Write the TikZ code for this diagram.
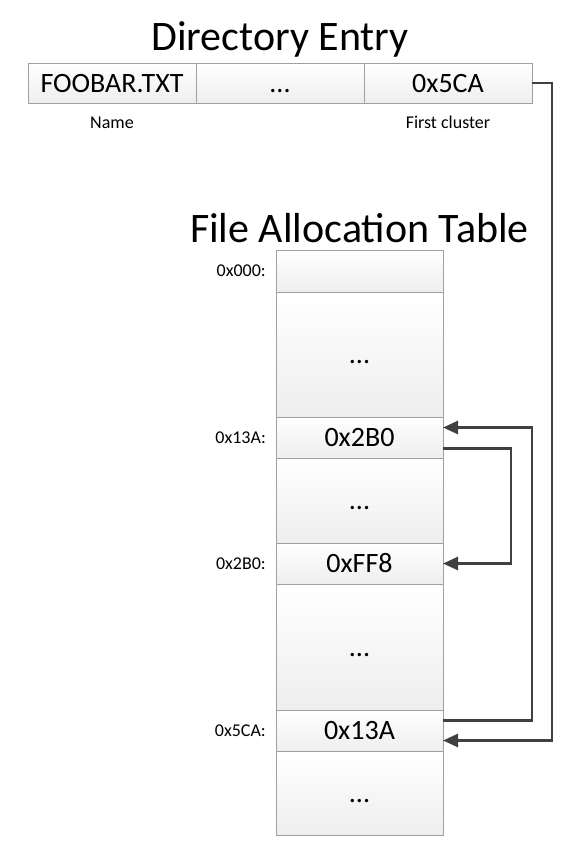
\documentclass[tikz,border=0pt]{standalone}
\usepackage{fontspec}
\setmainfont{Carlito}
\usetikzlibrary{arrows.meta,positioning}

\definecolor{cellborder}{HTML}{A0A0A0}
\definecolor{cellfill}{HTML}{EEEEEE}
\definecolor{linkgray}{HTML}{404040}

\tikzset{
  cell/.style={draw=cellborder, line width=1pt, top color=white, bottom color=cellfill,
    inner sep=0pt, outer sep=0pt, text height=18pt, text depth=0pt,
    font=\fontsize{28}{32}\selectfont},
  decell/.style={cell, minimum width=168pt, minimum height=40pt},
  fatcell/.style={cell, minimum width=167pt},
  rowlbl/.style={font=\fontsize{18}{21}\selectfont, inner sep=0pt},
  title/.style={font=\fontsize{42}{48}\selectfont, anchor=base, inner sep=0pt},
  link/.style={draw=linkgray, line width=2.6pt, -{Triangle[length=15pt,width=13pt]}}
}

\begin{document}
\begin{tikzpicture}[x=1pt,y=-1pt]

\useasboundingbox (0,0) rectangle (579,854);

% Titles
\node[title] (detitle) at (280,50) {Directory Entry};
\node[title] (fattitle) at (359.5,242) {File Allocation Table};

% Directory entry row
\node[decell] (de_name) at (112,83) {FOOBAR.TXT};
\node[decell] (de_dots) at (280,83) {...};
\node[decell] (de_clus) at (448,83) {0x5CA};

% Field names
\node[rowlbl, anchor=base] (lbl_name) at (112,128) {Name};
\node[rowlbl, anchor=base] (lbl_clus) at (448,128) {First cluster};

% FAT column
\node[fatcell, minimum height=42pt] (fat_0) at (359.5,271) {};
\node[fatcell, minimum height=125pt] (fat_d1) at (359.5,354.5) {...};
\node[fatcell, minimum height=41pt] (fat_13a) at (359.5,437.5) {0x2B0};
\node[fatcell, minimum height=85pt] (fat_d2) at (359.5,500.5) {...};
\node[fatcell, minimum height=41pt] (fat_2b0) at (359.5,563.5) {0xFF8};
\node[fatcell, minimum height=126pt] (fat_d3) at (359.5,647) {...};
\node[fatcell, minimum height=41pt] (fat_5ca) at (359.5,730.5) {0x13A};
\node[fatcell, minimum height=84pt] (fat_d4) at (359.5,793) {...};

% Cluster numbers
\node[rowlbl, left=10pt of fat_0] (adr_0) {0x000:};
\node[rowlbl, left=10pt of fat_13a] (adr_13a) {0x13A:};
\node[rowlbl, left=10pt of fat_2b0] (adr_2b0) {0x2B0:};
\node[rowlbl, left=10pt of fat_5ca] (adr_5ca) {0x5CA:};

% Chain of clusters
\draw[link] (de_clus.east) -- ++(20,0) |- ([yshift=-10pt]fat_5ca.east);
\draw[link] ([yshift=10pt]fat_5ca.east) -- ++(89,0) |- ([yshift=10pt]fat_13a.east);
\draw[link] ([yshift=-11pt]fat_13a.east) -- ++(68,0) |- (fat_2b0.east);

\end{tikzpicture}
\end{document}
